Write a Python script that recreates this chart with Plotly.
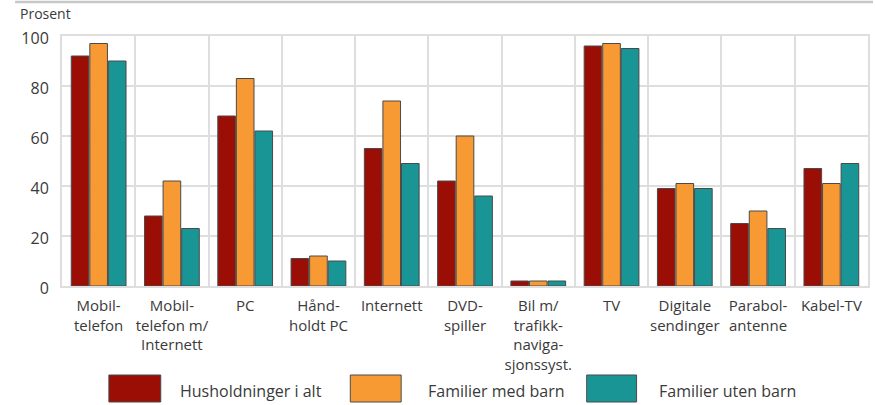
import plotly.graph_objects as go

# Andel husholdninger med ulikt utstyr, prosent
categories = [
    "Mobil-<br>telefon",
    "Mobil-<br>telefon m/<br>Internett",
    "PC",
    "Hånd-<br>holdt PC",
    "Internett",
    "DVD-<br>spiller",
    "Bil m/<br>trafikk-<br>naviga-<br>sjonssyst.",
    "TV",
    "Digitale<br>sendinger",
    "Parabol-<br>antenne",
    "Kabel-TV",
]
husholdninger_i_alt = [92, 28, 68, 11, 55, 42, 2, 96, 39, 25, 47]
familier_med_barn = [97, 42, 83, 12, 74, 60, 2, 97, 41, 30, 41]
familier_uten_barn = [90, 23, 62, 10, 49, 36, 2, 95, 39, 23, 49]

series_names = ["Husholdninger i alt", "Familier med barn", "Familier uten barn"]
series_values = [husholdninger_i_alt, familier_med_barn, familier_uten_barn]
colors = ["#9b0e06", "#f89a34", "#1a9595"]

W, H = 875, 405
ML, MR, MT, MB = 62, 5, 36, 119
PW, PH = W - ML - MR, H - MT - MB
FONT = "Open Sans"
TXT = "#3a3a3a"
GRID = "#dedede"


def px_x(x):
    return (x - ML) / PW


def px_y(y):
    return (H - MB - y) / PH


fig = go.Figure()
for name, vals, col in zip(series_names, series_values, colors):
    fig.add_trace(go.Bar(
        x=categories, y=vals, name=name,
        marker=dict(color=col, line=dict(color="#4a4a4a", width=1)),
        showlegend=False,
    ))

shapes = [
    # thin rule across the top of the figure
    dict(type="line", xref="paper", yref="paper",
         x0=px_x(15), x1=px_x(875), y0=px_y(2), y1=px_y(2),
         line=dict(color="#c8c8c8", width=2.5)),
]
annotations = [
    dict(text="Prosent", xref="paper", yref="paper", x=px_x(18), y=px_y(14),
         xanchor="left", yanchor="middle", showarrow=False,
         font=dict(family=FONT, size=14, color=TXT)),
]

# legend drawn as large swatches with labels beneath the plot
legend_swatch_x = [(109, 161), (351, 402), (588, 638)]
legend_text_x = [178, 427, 658]
for name, col, (sx0, sx1), tx in zip(series_names, colors, legend_swatch_x, legend_text_x):
    shapes.append(dict(type="rect", xref="paper", yref="paper",
                       x0=px_x(sx0), x1=px_x(sx1), y0=px_y(402), y1=px_y(375),
                       fillcolor=col, line=dict(color="#4a4a4a", width=1)))
    annotations.append(dict(text=name, xref="paper", yref="paper",
                            x=px_x(tx), y=px_y(391), xanchor="left", yanchor="middle",
                            showarrow=False, font=dict(family=FONT, size=16, color=TXT)))

fig.update_layout(
    width=W, height=H,
    margin=dict(l=ML, r=MR, t=MT, b=MB, pad=0),
    paper_bgcolor="white", plot_bgcolor="white",
    barmode="group", bargap=0.24, bargroupgap=0.05,
    font=dict(family=FONT, size=15, color=TXT),
    shapes=shapes, annotations=annotations,
)
fig.update_xaxes(
    tickson="boundaries", ticks="", tickangle=0, ticklabelstandoff=5,
    showgrid=True, gridcolor=GRID, gridwidth=2,
    showline=True, linecolor=GRID, linewidth=2, mirror=True,
    tickfont=dict(family=FONT, size=15, color=TXT),
)
fig.update_yaxes(
    range=[0, 100], tickvals=[0, 20, 40, 60, 80, 100],
    showgrid=True, gridcolor=GRID, gridwidth=2, zeroline=False,
    showline=True, linecolor=GRID, linewidth=2, mirror=True,
    ticks="", ticklabelstandoff=8, ticklabelshift=2,
    tickfont=dict(family=FONT, size=16, color=TXT),
)

fig.write_html("out.html")
